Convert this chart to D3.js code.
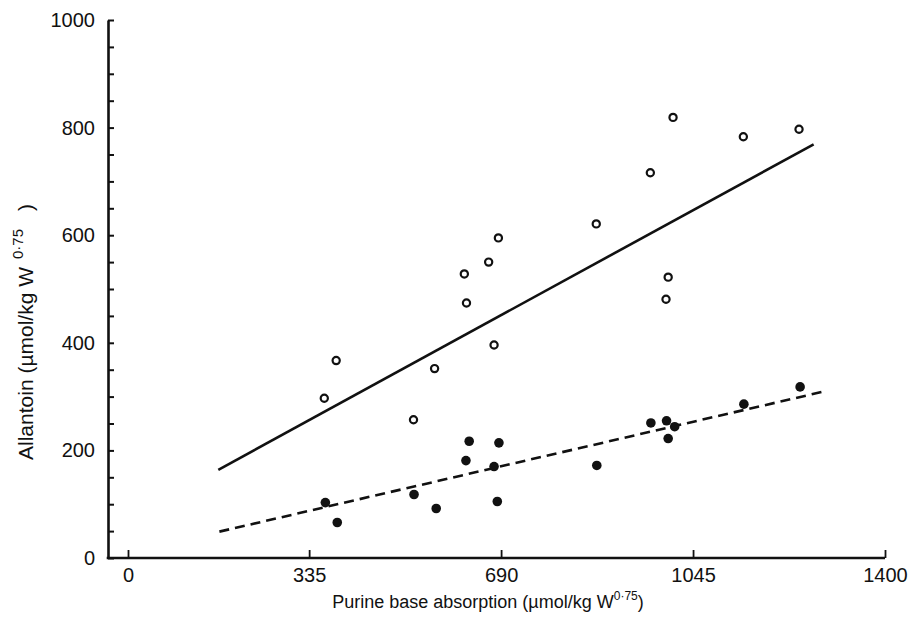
<!DOCTYPE html>
<html>
<head>
<meta charset="utf-8">
<script src="https://cdn.jsdelivr.net/npm/d3@7"></script>
<style>
  body { margin: 0; background: #fff; }
  svg text { font-family: "Liberation Sans", Arial, Helvetica, sans-serif; fill: #111; }
</style>
</head>
<body>
<div id="chart"></div>
<script>
// purine base absorption (x) vs allantoin excretion (y), µmol/kg W^0.75
const openX = [363, 385, 528, 567, 622, 626, 667, 677, 685, 866, 966, 999, 995, 1008, 1138, 1241]
const openY = [297, 367, 257, 352, 528, 474, 550, 396, 595, 621, 716, 522, 481, 819, 783, 797]

const filledX = [365, 387, 529, 570, 631, 625, 686, 677, 683, 867, 967, 996, 1011, 999, 1139, 1243]
const filledY = [103, 66, 118, 92, 217, 181, 214, 170, 105, 172, 251, 255, 244, 222, 286, 318]

// end points of the two fitted lines
const solidFit = [[167, 164], [1268, 769]]
const dashedFit = [[169, 49], [1289, 310]]

const xTicks = [0, 335, 690, 1045, 1400]
const yTicks = d3.range(0, 1001, 50)

const width = 909, height = 621

const svg = d3.select('#chart')
    .append('svg')
    .attr('width', width)
    .attr('height', height)

const x = d3.scaleLinear().domain([0, 1400]).range([128, 885])
const y = d3.scaleLinear().domain([0, 1000]).range([558, 20])
const axisX = 108

// y axis, ticks pointing into the plot
const yAxis = d3.axisLeft(y)
    .tickValues(yTicks)
    .tickSizeInner(-6)
    .tickSizeOuter(0)
    .tickPadding(13)
    .tickFormat(d => d % 200 === 0 ? d : '')

const gy = svg.append('g')
    .attr('transform', 'translate(' + axisX + ',0)')
    .call(yAxis)
gy.select('.domain').attr('stroke', '#111').attr('stroke-width', 2.6)
gy.selectAll('.tick line').attr('stroke', '#111').attr('stroke-width', 2)
gy.selectAll('.tick text')
    .attr('font-size', 20)
    .attr('font-family', '"Liberation Sans", Arial, sans-serif')
    .attr('fill', '#111')

// x axis
const xAxis = d3.axisBottom(x)
    .tickValues(xTicks)
    .tickSizeInner(-8)
    .tickSizeOuter(0)
    .tickPadding(10)
    .tickFormat(d3.format('d'))

const gx = svg.append('g')
    .attr('transform', 'translate(0,' + y(0) + ')')
    .call(xAxis)
gx.select('.domain').remove()
gx.selectAll('.tick line').attr('stroke', '#111').attr('stroke-width', 1.8)
gx.selectAll('.tick text')
    .attr('font-size', 20)
    .attr('font-family', '"Liberation Sans", Arial, sans-serif')
    .attr('fill', '#111')

svg.append('line')
    .attr('x1', axisX - 1.3)
    .attr('x2', x(1400))
    .attr('y1', y(0))
    .attr('y2', y(0))
    .attr('stroke', '#111')
    .attr('stroke-width', 2.6)

// axis titles
const xTitle = svg.append('text')
    .attr('x', 488)
    .attr('y', 608)
    .attr('text-anchor', 'middle')
    .attr('font-size', 18)
xTitle.append('tspan').text('Purine base absorption (µmol/kg W')
xTitle.append('tspan').attr('font-size', 12).attr('dy', -8).text('0·75')
xTitle.append('tspan').attr('dy', 8).text(')')

const yTitle = svg.append('text')
    .attr('transform', 'translate(33,460) rotate(-90)')
    .attr('text-anchor', 'start')
    .attr('font-size', 21)
yTitle.append('tspan').text('Allantoin (µmol/kg W')
yTitle.append('tspan').attr('font-size', 15).attr('dy', -10).attr('dx', 8).text('0·75')
yTitle.append('tspan').attr('dy', 10).attr('dx', 18).text(')')

// fitted lines
const line = d3.line()
    .x(d => x(d[0]))
    .y(d => y(d[1]))

svg.append('path')
    .datum(solidFit)
    .attr('d', line)
    .attr('fill', 'none')
    .attr('stroke', '#111')
    .attr('stroke-width', 2.6)

svg.append('path')
    .datum(dashedFit)
    .attr('d', line)
    .attr('fill', 'none')
    .attr('stroke', '#111')
    .attr('stroke-width', 2.6)
    .attr('stroke-dasharray', '10,6')

// points
svg.append('g')
    .selectAll('circle')
    .data(d3.zip(openX, openY))
    .enter().append('circle')
    .attr('cx', d => x(d[0]))
    .attr('cy', d => y(d[1]))
    .attr('r', 3.6)
    .attr('fill', '#fff')
    .attr('stroke', '#111')
    .attr('stroke-width', 2.2)

svg.append('g')
    .selectAll('circle')
    .data(d3.zip(filledX, filledY))
    .enter().append('circle')
    .attr('cx', d => x(d[0]))
    .attr('cy', d => y(d[1]))
    .attr('r', 4.8)
    .attr('fill', '#111')
</script>
</body>
</html>
